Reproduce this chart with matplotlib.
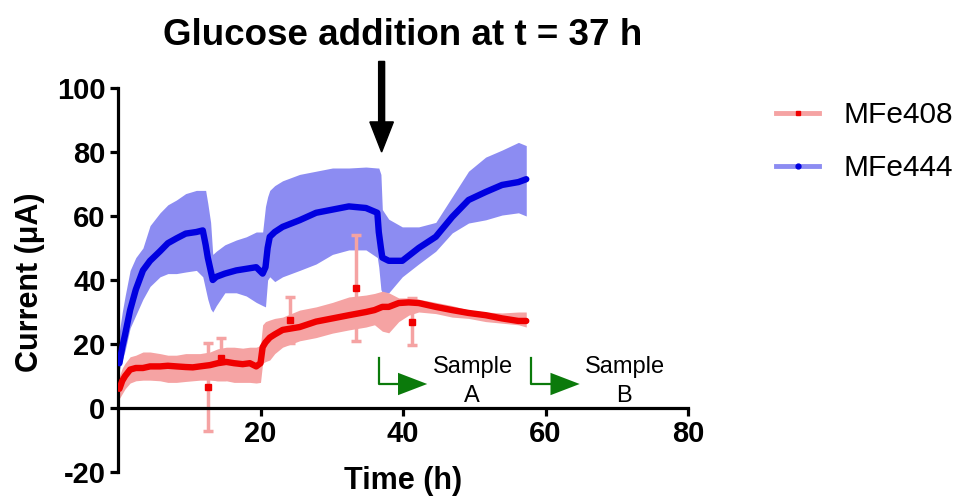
import matplotlib
matplotlib.use("Agg")
import matplotlib.pyplot as plt
from matplotlib.lines import Line2D

plt.rcParams['font.family'] = ['Liberation Sans', 'DejaVu Sans']
plt.rcParams['axes.unicode_minus'] = False

# ---- MFe444 (blue): time (h), mean current and envelope of SD bars (µA)
t_444 = [0.2, 0.6, 1.0, 1.7, 2.5, 3.5, 4.5, 5.9, 7.0, 8.2, 9.5, 11.0, 11.9, 12.3,
         12.6, 13.0, 13.3, 13.8, 15.0, 16.6, 18.0, 19.4, 20.3, 20.7, 21.0, 21.3,
         22.0, 23.1, 25.5, 27.8, 30.1, 32.4, 34.8, 36.4, 36.6, 36.9, 37.1, 38.0,
         39.9, 42.2, 44.6, 46.9, 49.2, 51.6, 53.9, 56.2, 57.3]
mean_444 = [14, 19, 23, 30.6, 37, 43, 46, 49, 51.5, 53, 54.5, 55, 55.5, 51,
            47, 43, 40, 41, 42, 43, 43.5, 44, 42, 44, 50, 53.5,
            55, 56.6, 58.7, 61, 62, 63, 62.5, 61, 55, 50, 47, 46,
            46, 50, 53.5, 59.7, 65, 67.5, 69.7, 70.6, 71.5]
hi_444 = [24, 30, 35, 43, 47, 50, 57, 61, 63.5, 65, 67, 68, 68, 68,
          64, 58, 48, 49, 51, 52.5, 53.5, 55, 55, 63, 66, 68,
          69.5, 71, 73, 74, 75, 75, 75.3, 75, 75, 73, 62, 59,
          56.6, 56.6, 58, 66, 74, 78.4, 80.6, 83, 82]
lo_444 = [12, 15, 18, 25, 29, 34, 38, 41, 42, 42, 42.5, 43, 41, 37,
          34, 31, 30, 32, 36, 36, 35, 33, 32, 31.6, 40, 41,
          39.5, 41, 43, 45, 48, 49.4, 49.4, 47, 44, 37, 36, 36,
          41, 45, 49, 54.7, 57.8, 58.8, 60.3, 61, 60]

# ---- MFe408 (red)
t_408 = [0.2, 0.6, 1.0, 1.7, 2.5, 3.5, 4.5, 5.9, 7.0, 8.2, 9.5, 10.5, 11.5, 12.9,
         14.0, 15.2, 16.3, 17.5, 18.5, 19.4, 20.0, 20.3, 20.7, 21.3, 22.0, 23.1,
         25.5, 27.8, 30.1, 32.4, 34.8, 36.0, 37.1, 38.0, 39.4, 40.8, 42.2, 44.6,
         46.9, 49.2, 51.6, 53.9, 56.2, 57.3]
mean_408 = [6, 8.5, 10, 12, 12.5, 12.5, 13, 13, 13.2, 13, 12.8, 12.7, 13, 13.4,
            14, 14.4, 14, 13.7, 14, 13, 14, 19, 20.5, 22, 23, 24.4,
            25.3, 27, 28, 29, 30, 30.6, 31.6, 31.6, 32.8, 33, 32.8, 31.6,
            30.6, 29.7, 29, 28, 27.2, 27.2]
hi_408 = [10, 12.5, 14, 16, 16.5, 17.5, 17.5, 17, 16.5, 16.5, 17, 17, 17, 17.5,
          18.5, 19, 19, 18.7, 19, 19, 19.5, 26, 27, 27.5, 28, 28.4,
          30.6, 31.6, 33, 34.7, 35.3, 35.8, 36.5, 36, 34.4, 34.4, 34, 33,
          32, 30.6, 30, 29.7, 30, 30]
lo_408 = [3, 4.5, 6, 7.8, 8.5, 8.7, 8.7, 8.5, 8, 8, 8.3, 8.5, 8.7, 8.7,
          8.5, 8.5, 8, 8, 8, 7.8, 8, 14, 14.5, 15, 17, 19,
          21, 22, 23.4, 24.4, 25.3, 26, 24, 23.5, 27, 29, 30, 29.5,
          28.4, 28, 27, 26.5, 26, 25.3]

# MFe408 readings with large standard deviation
spk_t = [12.7, 14.4, 24.1, 33.4, 41.2]
spk_mean = [6.6, 15.5, 27.5, 37.5, 27.0]
spk_sd = [13.8, 6.5, 7.2, 16.5, 7.3]

# sampling events and glucose addition time
glucose_t = 37
sample_t = [36.6, 58.0]
sample_names = ["A", "B"]

RED, PINK = "#F00000", "#F5A3A3"
BLUE, LBLUE = "#0000E0", "#8C8CF2"
GREEN = "#0B7A0B"

fig = plt.figure(figsize=(9.6, 4.97), dpi=100)
ax = fig.add_axes([118 / 960, 25 / 497, 570 / 960, 384 / 497])
ax.set_xlim(0, 80)
ax.set_ylim(-20, 100)

ax.fill_between(t_444, lo_444, hi_444, color=LBLUE, lw=0, zorder=1)
ax.errorbar(spk_t, spk_mean, yerr=spk_sd, fmt='none', ecolor=PINK,
            elinewidth=2.5, capsize=3.5, capthick=2.5, zorder=1.5)
ax.fill_between(t_408, lo_408, hi_408, color=PINK, lw=0, zorder=2)
ax.plot(t_444, mean_444, color=BLUE, lw=4.6, solid_capstyle='round', zorder=3)
ax.plot(t_408, mean_408, color=RED, lw=4.6, solid_capstyle='round', zorder=3)
ax.plot(spk_t, spk_mean, 's', ms=4, color=RED, zorder=3.5)

# axes styling
for side in ("top", "right"):
    ax.spines[side].set_visible(False)
ax.spines["left"].set_bounds(-20, 100)
ax.spines["bottom"].set_position(("data", 0))
ax.spines["bottom"].set_bounds(0, 80)
for side in ("left", "bottom"):
    ax.spines[side].set_linewidth(2.3)
ax.set_yticks(range(-20, 101, 20))
ax.set_xticks([20, 40, 60, 80])
ax.tick_params(width=2.3, length=6, labelsize=21, pad=3)
for lab in ax.get_xticklabels() + ax.get_yticklabels():
    lab.set_fontweight("bold")

ax.text(40, -22.8, "Time (h)", ha="center", va="center", fontsize=22,
        fontweight="bold", clip_on=False)
fig.text(30 / 960, 1 - 282 / 497, "Current (μA)", rotation=90, ha="center",
         va="center", fontsize=22, fontweight="bold")

# glucose addition annotation
fig.text(403 / 960, 1 - 45 / 497, f"Glucose addition at t = {glucose_t} h",
         ha="center", va="baseline", fontsize=26.5, fontweight="bold")
ax.arrow(glucose_t, 108.3, 0, -28.3, width=0.84, head_width=3.3,
         head_length=9.4, length_includes_head=True, color="black",
         clip_on=False, zorder=5)

# sample markers
for st, name in zip(sample_t, sample_names):
    ax.plot([st, st, st + 2.8], [15.6, 7.5, 7.5], color=GREEN, lw=1.6, zorder=4)
    ax.fill([st + 2.7, st + 2.7, st + 6.8], [11.0, 4.0, 7.5], color=GREEN,
            lw=0, zorder=4)
    ax.text(st + 13.2, 11.0, "Sample", ha="center", va="baseline", fontsize=17)
    ax.text(st + 13.0, 1.8, name, ha="center", va="baseline", fontsize=17)

handles = [
    Line2D([], [], color=PINK, lw=3.5, marker='s', ms=3.5, mfc=RED, mec=RED),
    Line2D([], [], color=LBLUE, lw=3.5, marker='o', ms=3.5, mfc=BLUE, mec=BLUE),
]
fig.legend(handles, ["MFe408", "MFe444"], loc="upper left",
           bbox_to_anchor=(776 / 960, 1 - 101 / 497), frameon=False,
           fontsize=21.5, handlelength=1.45, handletextpad=0.8, labelspacing=0.85,
           borderaxespad=0, borderpad=0)

fig.savefig("out.png", dpi=100)
